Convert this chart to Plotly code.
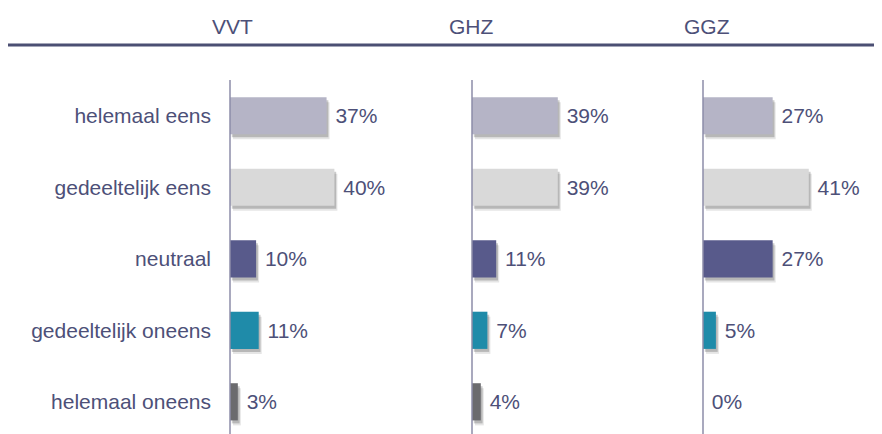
import plotly.graph_objects as go

categories = ["helemaal eens", "gedeeltelijk eens", "neutraal", "gedeeltelijk oneens", "helemaal oneens"]
groups = ["VVT", "GHZ", "GGZ"]
vvt = [37, 40, 10, 11, 3]
ghz = [39, 39, 11, 7, 4]
ggz = [27, 41, 27, 5, 0]
colors = ["#b5b4c6", "#d9d9d9", "#585a8b", "#1f8ba9", "#6b6b6e"]

W, H = 882, 434
OFF = 8  # page body margin
text_col = "#4d5078"
font = "Liberation Sans, Arial, sans-serif"
fs = 21

# panel layout (page pixels) and scale (px per %)
panels = [
    dict(x0=230, x1=450, ppu=2.61),
    dict(x0=472, x1=690, ppu=2.2),
    dict(x0=703, x1=874, ppu=2.58),
]
series = [vvt, ghz, ggz]
plot_top = 80 - OFF

fig = go.Figure()
row_px = 71.5
bw = 0.52
for i, (p, vals) in enumerate(zip(panels, series)):
    xa = "x" if i == 0 else f"x{i+1}"
    shift = 3.0 / p["ppu"]
    fig.add_trace(go.Bar(
        y=categories, x=vals, base=[shift] * len(vals), orientation="h",
        marker=dict(color="rgba(0,0,0,0.10)", line_width=0),
        width=bw, offset=-bw / 2 + 5 / row_px,
        xaxis=xa, yaxis="y", hoverinfo="skip", showlegend=False,
    ))
    fig.add_trace(go.Bar(
        y=categories, x=vals, base=[shift * 0.6] * len(vals), orientation="h",
        marker=dict(color="rgba(0,0,0,0.20)", line_width=0),
        width=bw, offset=-bw / 2 + 3 / row_px,
        xaxis=xa, yaxis="y", hoverinfo="skip", showlegend=False,
    ))
    fig.add_trace(go.Bar(
        y=categories, x=vals, orientation="h",
        marker=dict(color=colors, line_width=0),
        width=bw,
        text=vals, texttemplate="\u00a0%{x}%", textposition="outside",
        textfont=dict(size=fs, color=text_col, family=font),
        cliponaxis=False,
        xaxis=xa, yaxis="y", showlegend=False,
    ))

ytop = 1 - plot_top / H
layout = dict(
    width=W, height=H, margin=dict(l=0, r=0, t=0, b=0),
    paper_bgcolor="white", plot_bgcolor="white",
    barmode="overlay", font=dict(family=font, color=text_col),
    yaxis=dict(
        type="category", categoryorder="array", categoryarray=categories,
        range=[4.45 + 8 / row_px, -0.5], domain=[0, ytop], anchor="x",
        showgrid=False, zeroline=False, showline=False, ticks="",
        tickfont=dict(size=fs, color=text_col, family=font),
        ticklabelstandoff=18,
    ),
)
for i, p in enumerate(panels):
    key = "xaxis" if i == 0 else f"xaxis{i+1}"
    x0 = p["x0"] - OFF
    x1 = p["x1"] - OFF
    layout[key] = dict(
        domain=[x0 / W, x1 / W],
        range=[0, (x1 - x0) / p["ppu"]],
        anchor="y", showgrid=False, zeroline=False, showticklabels=False,
        showline=False,
    )
fig.update_layout(**layout)

for p in panels:
    xp = (p["x0"] - OFF) / W
    fig.add_shape(type="line", xref="paper", yref="paper",
                  x0=xp, x1=xp, y0=0, y1=ytop,
                  line=dict(color="#8d8da8", width=1.5), layer="above")

yl = 1 - (45 - OFF) / H
fig.add_shape(type="line", xref="paper", yref="paper",
              x0=0, x1=1, y0=yl, y1=yl,
              line=dict(color="#4b4f73", width=3))

header_x = [232, 472, 707]
for g, hx in zip(groups, header_x):
    fig.add_annotation(text=g, x=(hx - OFF) / W, y=1 - (27 - OFF) / H,
                       xref="paper", yref="paper",
                       showarrow=False, xanchor="center", yanchor="middle",
                       font=dict(size=fs, color=text_col, family=font))

fig.write_html("out.html")
